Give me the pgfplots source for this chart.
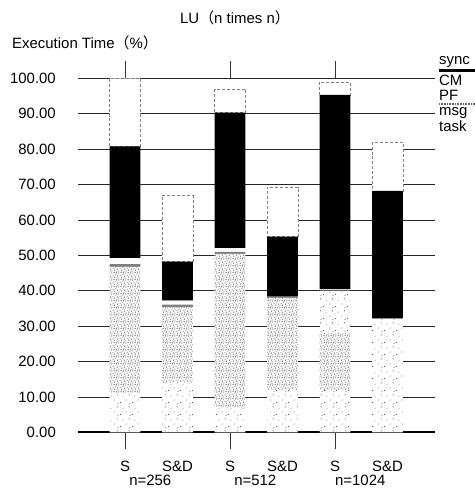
\documentclass[border=0pt]{standalone}
\usepackage{fontspec}
\setmainfont{Liberation Sans}
\newfontfamily\cjk{Noto Sans CJK JP}
\usepackage{pgfplots}
\usepackage{pgfplotstable}
\pgfplotsset{compat=1.18}
\usetikzlibrary{patterns,patterns.meta}

\tikzdeclarepattern{
  name=stippledense, type=uncolored,
  bounding box={(0,0) and (7pt,7pt)}, tile size={(7pt,7pt)},
  code={
    \fill (0.4pt,0.6pt) rectangle ++(0.9pt,0.9pt);
    \fill (3.1pt,1.4pt) rectangle ++(0.9pt,0.9pt);
    \fill (5.6pt,0.3pt) rectangle ++(0.9pt,0.9pt);
    \fill (1.7pt,3.3pt) rectangle ++(0.9pt,0.9pt);
    \fill (4.3pt,3.8pt) rectangle ++(0.9pt,0.9pt);
    \fill (6.0pt,2.5pt) rectangle ++(0.9pt,0.9pt);
    \fill (0.2pt,5.6pt) rectangle ++(0.9pt,0.9pt);
    \fill (2.7pt,5.9pt) rectangle ++(0.9pt,0.9pt);
    \fill (5.1pt,5.7pt) rectangle ++(0.9pt,0.9pt);
  }
}
\tikzdeclarepattern{
  name=stipplesparse, type=uncolored,
  bounding box={(0,0) and (12pt,12pt)}, tile size={(12pt,12pt)},
  code={
    \fill (1.2pt,2.1pt) rectangle ++(0.9pt,0.9pt);
    \fill (7.4pt,4.6pt) rectangle ++(0.9pt,0.9pt);
    \fill (3.6pt,8.3pt) rectangle ++(0.9pt,0.9pt);
    \fill (9.9pt,9.7pt) rectangle ++(0.9pt,0.9pt);
    \fill (10.6pt,0.9pt) rectangle ++(0.9pt,0.9pt);
  }
}

\pgfplotstableread{
x    lowt dense upt  PF  msg  CM   sync
0    11   35.7  0    0.8 1.7  31.6 19.2
0.5  14   21.3  0    0.8 1.1  11.0 18.8
1    7    43.4  0    0.6 1.0  38.3 6.7
1.5  12   26    0    0.3 0    17.0 14.0
2    12   16    12   0.2 0.2  54.9 3.7
2.5  32   0     0    0.2 0    36.0 13.8
}\data

\begin{document}
\fontsize{15}{18}\selectfont
\begin{tikzpicture}
\begin{axis}[
  name=ax, scale only axis, width=357bp, height=354bp,
  xmin=-0.448, xmax=2.952, ymin=0, ymax=100,
  ybar stacked, bar width=30.6bp, clip=false,
  axis line style={draw=none},
  xtick={0,1,2}, xticklabels={S,S,S},
  xtick pos=both, tick align=outside, major tick length=17bp,
  x tick style={black!80, line width=0.7pt},
  xticklabel shift=7bp,
  extra x ticks={0.5,1.5,2.5}, extra x tick labels={S\&D,S\&D,S\&D},
  extra x tick style={major tick length=0pt, grid=none, xticklabel shift=24bp},
  ytick={0,10,...,100},
  y tick style={draw=none},
  ymajorgrids, grid style={black!85, line width=0.7pt},
  yticklabel style={/pgf/number format/.cd, fixed, fixed zerofill, precision=2, assume math mode=true},
  xticklabel style={/pgf/number format/assume math mode=true},
  every tick label/.append style={font=\fontsize{15}{18}\selectfont},
]
\addplot[draw=none, fill=white, postaction={pattern=stipplesparse, pattern color=black!65}] table[x=x,y=lowt]{\data};
\addplot[draw=none, fill=white, postaction={pattern=stippledense, pattern color=black!65}] table[x=x,y=dense]{\data};
\addplot[draw=none, fill=white, postaction={pattern=stipplesparse, pattern color=black!65}] table[x=x,y=upt]{\data};
\addplot[draw=none, fill=black!50] table[x=x,y=PF]{\data};
\addplot[draw=none, fill=white] table[x=x,y=msg]{\data};
\addplot[draw=none, fill=black] table[x=x,y=CM]{\data};
\addplot[draw=black!50, densely dashed, line width=0.6pt, fill=white] table[x=x,y=sync]{\data};
\draw[black, line width=2pt] (rel axis cs:0,0) -- (rel axis cs:1,0);
\node at (axis cs:0.24,0) [yshift=-48bp] {n=256};
\node at (axis cs:1.24,0) [yshift=-48bp] {n=512};
\node at (axis cs:2.24,0) [yshift=-48bp] {n=1024};
\end{axis}
\node at ([xshift=157bp, yshift=60bp]ax.north west) {LU{\cjk （}n times n{\cjk ）}};
\node[anchor=west, inner sep=0pt] at ([xshift=-66bp, yshift=35bp]ax.north west) {Execution Time{\cjk （}\%{\cjk ）}};
\node[anchor=west, inner sep=0pt] at ([xshift=4bp, yshift=16bp]ax.north east) {sync};
\draw[line width=3bp] ([xshift=4bp, yshift=8bp]ax.north east) -- ++(36bp,0);
\node[anchor=west, inner sep=0pt] at ([xshift=4bp, yshift=-2bp]ax.north east) {CM};
\node[anchor=west, inner sep=0pt] at ([xshift=4bp, yshift=-17bp]ax.north east) {PF};
\draw[black!60, line width=2.2bp, dash pattern=on 1bp off 0.6bp] ([xshift=4bp, yshift=-26bp]ax.north east) -- ++(36bp,0);
\node[anchor=west, inner sep=0pt] at ([xshift=4bp, yshift=-35bp]ax.north east) {msg};
\node[anchor=west, inner sep=0pt] at ([xshift=4bp, yshift=-48bp]ax.north east) {task};
\pgfresetboundingbox
\path ([xshift=-78bp, yshift=-55.7bp]ax.south west) rectangle ([xshift=40bp, yshift=78.3bp]ax.north east);
\end{tikzpicture}
\end{document}
